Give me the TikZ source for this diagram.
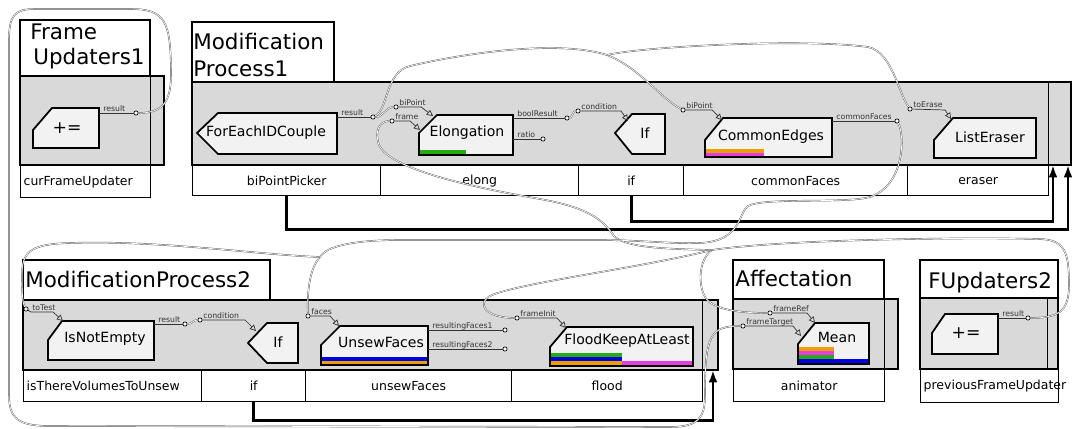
\documentclass[tikz,border=0pt]{standalone}
\usepackage{fontspec}
\setmainfont{DejaVu Sans}
\usetikzlibrary{arrows.meta}
\definecolor{procgray}{RGB}{217,217,217}
\definecolor{blockfill}{RGB}{242,242,242}
\definecolor{bargreen}{RGB}{40,170,20}
\definecolor{barorange}{RGB}{235,160,0}
\definecolor{barmagenta}{RGB}{230,60,230}
\definecolor{barblue}{RGB}{0,0,220}

\begin{document}
\begin{tikzpicture}[x=0.02cm, y=-0.02cm,
  titlebox/.style={draw, line width=0.8pt},
  divider/.style={draw, line width=0.4pt},
  titletext/.style={font=\fontsize{12.2}{14}\selectfont, inner sep=0pt, anchor=base west},
  procbox/.style={draw, line width=1.6pt, fill=procgray},
  cell/.style={draw, line width=0.8pt, inner sep=0pt, inner xsep=0.06cm, anchor=north west, font=\fontsize{7.1}{8}\selectfont},
  block/.style={draw, line width=1pt, fill=blockfill},
  blocktext/.style={font=\fontsize{8}{9}\selectfont, inner sep=0pt},
  optext/.style={font=\fontsize{9.8}{11}\selectfont, inner sep=0pt},
  port/.style={circle, draw, inner sep=0pt, minimum size=2.4pt, line width=0.4pt, fill=white},
  portline/.style={line width=0.4pt, draw=black!80},
  inport/.style={portline, -{Triangle[open, length=3.5pt, width=3.5pt]}},
  portlabel/.style={font=\fontsize{4.4}{5}\selectfont, inner sep=0pt, anchor=base west, text=black!80},
  wire/.style={draw=black!65, line width=0.25pt, double=white, double distance=0.4pt},
  flow/.style={line width=1.6pt, -{Latex[length=7pt, width=5pt]}},
]
\useasboundingbox (0,0) rectangle (1072,429);

% FrameUpdaters1
\draw[titlebox] (20,20) rectangle (150,76);
\node[titletext] (fu1-name) at (30,40) {Frame};
\node[titletext] (fu1-name2) at (33,65) {Updaters1};
\draw[procbox] (20,76) rectangle (164,165);
\draw[divider] (150,76) -- (150,165);
\node[cell, minimum height=0.64cm, text width=2.48cm, align=left] (cfu) at (20,165) {curFrameUpdater};
\draw[block] (33,130) -- (52,108) -- (99,108) -- (99,148) -- (33,148) -- cycle;
\node[optext] (fu1-op) at (67,128) {+=};

% ModificationProcess1
\draw[titlebox] (192,22) rectangle (334,82);
\node[titletext] (mp1-name) at (193,50) {Modification};
\node[titletext] (mp1-name2) at (193,77) {Process1};
\draw[procbox] (192,82) rectangle (1071,165);
\draw[divider] (1048,82) -- (1048,165);
\node[cell, minimum width=3.76cm, minimum height=0.6cm] (bpp) at (192,165) {biPointPicker};
\node[cell, minimum width=3.96cm, minimum height=0.6cm] (elc) at (380,165) {elong};
\node[cell, minimum width=2.1cm, minimum height=0.6cm] (if1c) at (578,165) {if};
\node[cell, minimum width=4.48cm, minimum height=0.6cm] (cfc) at (683,165) {commonFaces};
\node[cell, minimum width=2.82cm, minimum height=0.6cm] (erc) at (907,165) {eraser};

\draw[block] (197,133) -- (218,113) -- (337,113) -- (337,154) -- (218,154) -- cycle;
\node[blocktext] (fe) at (266,133) {ForEachIDCouple};
\draw[block] (419,133) -- (437,115) -- (513,115) -- (513,155) -- (419,155) -- cycle;
\fill[bargreen] (420,150) rectangle (466,154.2);
\node[blocktext] (el) at (467,133) {Elongation};
\draw[block] (615,133) -- (632,114) -- (665,114) -- (665,154) -- (632,154) -- cycle;
\node[blocktext] (if1) at (645,133) {If};
\draw[block] (705,140) -- (723,118) -- (832,118) -- (832,157) -- (705,157) -- cycle;
\fill[barorange] (706,149) rectangle (764,153);
\fill[barmagenta] (706,153) rectangle (764,156.2);
\node[blocktext] (ce) at (771,137) {CommonEdges};
\draw[block] (934,140) -- (953,118) -- (1036,118) -- (1036,158) -- (934,158) -- cycle;
\node[blocktext] (le) at (990,137) {ListEraser};

% ModificationProcess2
\draw[titlebox] (23,260) rectangle (270,300);
\node[titletext] (mp2-name) at (25,287) {ModificationProcess2};
\draw[procbox] (23,300) rectangle (718,370);
\draw[divider] (702,300) -- (702,370);
\node[cell, minimum height=0.62cm, text width=3.44cm, align=left] (itv) at (23,370) {isThereVolumesToUnsew};
\node[cell, minimum width=2.08cm, minimum height=0.62cm] (if2c) at (201,370) {if};
\node[cell, minimum width=4.12cm, minimum height=0.62cm] (ufc) at (305,370) {unsewFaces};
\node[cell, minimum width=3.82cm, minimum height=0.62cm] (flc) at (511,370) {flood};

\draw[block] (48,340) -- (62,321) -- (154,321) -- (154,360) -- (48,360) -- cycle;
\node[blocktext] (ine) at (105,339) {IsNotEmpty};
\draw[block] (248,343) -- (267,323) -- (298,323) -- (298,363) -- (267,363) -- cycle;
\node[blocktext] (if2) at (278,342) {If};
\draw[block] (321,345) -- (340,326) -- (428,326) -- (428,365) -- (321,365) -- cycle;
\fill[barblue] (322,357) rectangle (427,361);
\fill[barorange] (322,361) rectangle (427,364.2);
\node[blocktext] (uf) at (381,342) {UnsewFaces};
\draw[block] (550,347) -- (567,327) -- (693,327) -- (693,366) -- (550,366) -- cycle;
\fill[bargreen] (551,353) rectangle (622,357);
\fill[barblue] (551,357) rectangle (622,361);
\fill[barorange] (551,361) rectangle (622,365.2);
\fill[barmagenta] (622,361) rectangle (692,365.2);
\node[blocktext] (fl) at (627,341) {FloodKeepAtLeast};

% Affectation
\draw[titlebox] (733,260) rectangle (884,299);
\node[titletext] (af-name) at (735,286) {Affectation};
\draw[procbox] (733,299) rectangle (898,369);
\draw[divider] (884,299) -- (884,369);
\node[cell, minimum width=3.02cm, minimum height=0.64cm] (anc) at (733,369) {animator};
\draw[block] (798,344) -- (815,323) -- (869,323) -- (869,364) -- (798,364) -- cycle;
\fill[barorange] (799,347) rectangle (834,351);
\fill[barmagenta] (799,351) rectangle (834,355);
\fill[bargreen] (799,355) rectangle (834,359);
\fill[barblue] (799,359) rectangle (868,363.2);
\node[blocktext] (mn) at (837,337) {Mean};

% FUpdaters2
\draw[titlebox] (920,260) rectangle (1058,298);
\node[titletext] (fu2-name) at (928,288) {FUpdaters2};
\draw[procbox] (920,298) rectangle (1058,369);
\draw[divider] (1047,298) -- (1047,369);
\node[cell, minimum height=0.66cm, text width=2.64cm, align=left] (pfu) at (920,369) {previousFrameUpdater};
\draw[block] (932,333) -- (945,314) -- (998,314) -- (998,354) -- (932,354) -- cycle;
\node[optext] (fu2-op) at (966,333) {+=};

% ports
\node[port] (fu1-res) at (136,113) {};
\node[port] (fe-res) at (373,117) {};
\node[port] (el-bp) at (396,107) {};
\node[port] (el-fr) at (392,121) {};
\node[port] (el-br) at (567,118) {};
\node[port] (el-ra) at (543,139) {};
\node[port] (if1-cd) at (578,111) {};
\node[port] (ce-bp) at (683,110) {};
\node[port] (ce-cf) at (897,121) {};
\node[port] (le-te) at (910,109) {};
\node[port] (ine-tt) at (26,309) {};
\node[port] (ine-res) at (185,324) {};
\node[port] (if2-cd) at (200,320) {};
\node[port] (uf-fa) at (308,316) {};
\node[port] (uf-r1) at (505,330) {};
\node[port] (uf-r2) at (505,349) {};
\node[port] (fl-fi) at (517,318) {};
\node[port] (mn-fr) at (770,313) {};
\node[port] (mn-ft) at (743,326) {};
\node[port] (fu2-res) at (1028,318) {};

% outputs
\draw[portline] (99,113) -- (fu1-res);
\node[portlabel] (fu1-res-l) at (103,111.5) {result};
\draw[portline] (337,117) -- (fe-res);
\node[portlabel] (fe-res-l) at (341,115.5) {result};
\draw[portline] (513,118) -- (el-br);
\node[portlabel] (el-br-l) at (517,116.5) {boolResult};
\draw[portline] (513,139) -- (el-ra);
\node[portlabel] (el-ra-l) at (517,137.5) {ratio};
\draw[portline] (832,121) -- (ce-cf);
\node[portlabel] (ce-cf-l) at (836,119.5) {commonFaces};
\draw[portline] (154,324) -- (ine-res);
\node[portlabel] (ine-res-l) at (158,322.5) {result};
\draw[portline] (428,330) -- (uf-r1);
\node[portlabel] (uf-r1-l) at (432,328.5) {resultingFaces1};
\draw[portline] (428,349) -- (uf-r2);
\node[portlabel] (uf-r2-l) at (432,347.5) {resultingFaces2};
\draw[portline] (998,318) -- (fu2-res);
\node[portlabel] (fu2-res-l) at (1002,316.5) {result};

% inputs
\draw[inport] (el-bp) -- (421,107) -- (433,116);
\node[portlabel] (el-bp-l) at (399,105.5) {biPoint};
\draw[inport] (el-fr) -- (410,121) -- (420,130);
\node[portlabel] (el-fr-l) at (395,119.5) {frame};
\draw[inport] (if1-cd) -- (621,111) -- (628,121);
\node[portlabel] (if1-cd-l) at (581,109.5) {condition};
\draw[inport] (ce-bp) -- (712,110) -- (722,120);
\node[portlabel] (ce-bp-l) at (686,108.5) {biPoint};
\draw[inport] (le-te) -- (945,110) -- (951,119);
\node[portlabel] (le-te-l) at (913,107.5) {toErase};
\draw[inport] (ine-tt) -- (31,312) -- (53,312) -- (63,321);
\node[portlabel] (ine-tt-l) at (32,310.5) {toTest};
\draw[inport] (if2-cd) -- (245,320) -- (256,331);
\node[portlabel] (if2-cd-l) at (203,318.5) {condition};
\draw[inport] (uf-fa) -- (330,316) -- (339,326);
\node[portlabel] (uf-fa-l) at (311,314.5) {faces};
\draw[inport] (fl-fi) -- (557,318) -- (566,328);
\node[portlabel] (fl-fi-l) at (520,316.5) {frameInit};
\draw[inport] (mn-fr) -- (807,313) -- (815,323);
\node[portlabel] (mn-fr-l) at (773,311.5) {frameRef};
\draw[inport] (mn-ft) -- (793,326) -- (801,336);
\node[portlabel] (mn-ft-l) at (746,324.5) {frameTarget};

% control flow
\coordinate (mp1-done1) at (1053,165);
\coordinate (mp1-done2) at (1068,165);
\coordinate (mp2-done) at (713,370);
\draw[flow] (bpp.south) -- ++(0,33) -| (mp1-done2);
\draw[flow] (if1c.south) -- ++(0,25) -| (mp1-done1);
\draw[flow] (if2c.south) -- ++(0,18) -| (mp2-done);

% data wires
\coordinate (j) at (712,250);
\coordinate (k) at (320,257);
\coordinate (l) at (607,55);
\draw[wire] (fu1-res) .. controls (160,113) and (171,105) .. (171,75) .. controls (171,20) and (165,9) .. (130,9) -- (35,9) .. controls (15,9) and (9,15) .. (9,40) -- (9,395) .. controls (9,418) and (18,425) .. (45,426) -- (670,427) .. controls (698,427) and (705,418) .. (705,395) .. controls (705,335) and (710,326) .. (mn-ft);
\draw[wire] (fu2-res) .. controls (1058,318) and (1069,312) .. (1069,285) .. controls (1069,252) and (1065,240) .. (1040,239) .. controls (950,237) and (780,240) .. (j);
\draw[wire] (j) .. controls (700,258) and (697,282) .. (705,297) .. controls (713,310) and (740,313) .. (mn-fr);
\draw[wire] (j) .. controls (640,268) and (525,282) .. (492,295) .. controls (475,303) and (485,318) .. (fl-fi);
\draw[wire] (j) .. controls (660,249) and (625,247) .. (614,236) .. controls (602,218) and (585,207) .. (540,199) .. controls (460,185) and (390,168) .. (379,145) .. controls (374,130) and (380,121) .. (el-fr);
\draw[wire] (ce-cf) .. controls (905,135) and (905,185) .. (870,197) .. controls (845,204) and (765,197) .. (748,206) .. controls (738,213) and (742,241) .. (700,243) .. controls (670,244) and (640,240) .. (600,240) -- (400,240) .. controls (355,240) and (326,246) .. (k);
\draw[wire] (k) .. controls (310,268) and (307,290) .. (uf-fa);
\draw[wire] (k) .. controls (260,255) and (160,240) .. (70,243) .. controls (30,244) and (22,252) .. (22,275) .. controls (22,298) and (23,304) .. (ine-tt);
\draw[wire] (fe-res) .. controls (383,117) and (386,107) .. (el-bp);
\draw[wire] (fe-res) .. controls (388,110) and (385,72) .. (410,66) .. controls (470,52) and (560,40) .. (l);
\draw[wire] (l) .. controls (640,68) and (660,98) .. (ce-bp);
\draw[wire] (l) .. controls (640,47) and (800,38) .. (868,47) .. controls (892,52) and (898,92) .. (le-te);
\draw[wire] (el-br) .. controls (572,118) and (573,111) .. (if1-cd);
\draw[wire] (ine-res) .. controls (192,324) and (193,320) .. (if2-cd);
\end{tikzpicture}
\end{document}
